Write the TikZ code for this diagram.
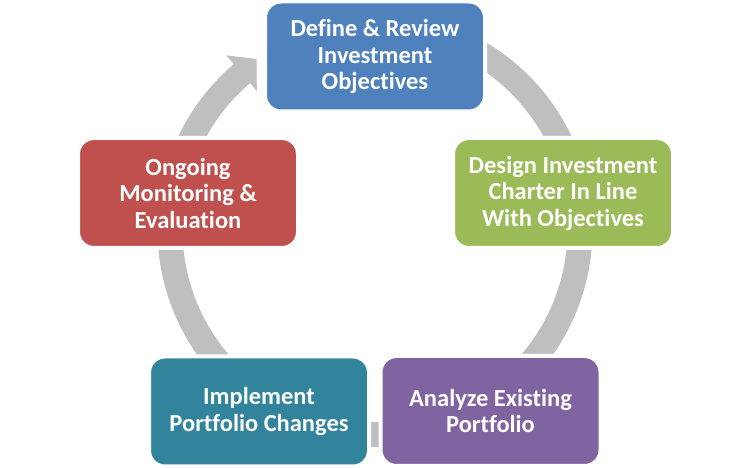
\documentclass[tikz,border=0pt]{standalone}
\usepackage{fontspec}
\setmainfont[Ligatures=NoCommon]{Carlito}
\usetikzlibrary{calc}
\definecolor{ringgray}{HTML}{BFBFBF}
\definecolor{cblue}{HTML}{4F81BD}
\definecolor{cgreen}{HTML}{9BBB59}
\definecolor{cpurple}{HTML}{8064A2}
\definecolor{cteal}{HTML}{31849B}
\definecolor{cred}{HTML}{C0504D}
\tikzset{
  stepbox/.style={rectangle, rounded corners=16pt, draw=white, line width=4pt,
    minimum width=220pt, minimum height=110pt, inner sep=0pt, align=center,
    text=white, font=\fontsize{24.5}{26.5}\selectfont\bfseries}
}
\begin{document}
\begin{tikzpicture}[x=1pt,y=1pt]
\useasboundingbox (0,0) rectangle (750,468);
\fill[white] (0,0) rectangle (750,468);
\coordinate (C) at (375,238.5);
\fill[ringgray] ($(C)+(110:217.5pt)$) arc[start angle=110, end angle=-229.5, radius=217.5pt]
  -- ($(C)+(130.5:229pt)$) -- ($(C)+(124.8:207.6pt)$) -- ($(C)+(130.5:182pt)$)
  -- ($(C)+(130.5:192.5pt)$) arc[start angle=-229.5, end angle=110, radius=192.5pt] -- cycle;
\node[stepbox, fill=cblue] (define) at (375,411.5) {Define \& Review\\Investment\\Objectives};
\node[stepbox, fill=cgreen] (design) at (563,275) {Design Investment\\Charter In Line\\With Objectives};
\node[stepbox, fill=cpurple] (analyze) at (490.5,57) {Analyze Existing\\Portfolio};
\node[stepbox, fill=cteal] (implement) at (259,56.5) {Implement\\Portfolio Changes};
\node[stepbox, fill=cred] (monitor) at (188,275) {Ongoing\\Monitoring \&\\Evaluation};
\end{tikzpicture}
\end{document}
